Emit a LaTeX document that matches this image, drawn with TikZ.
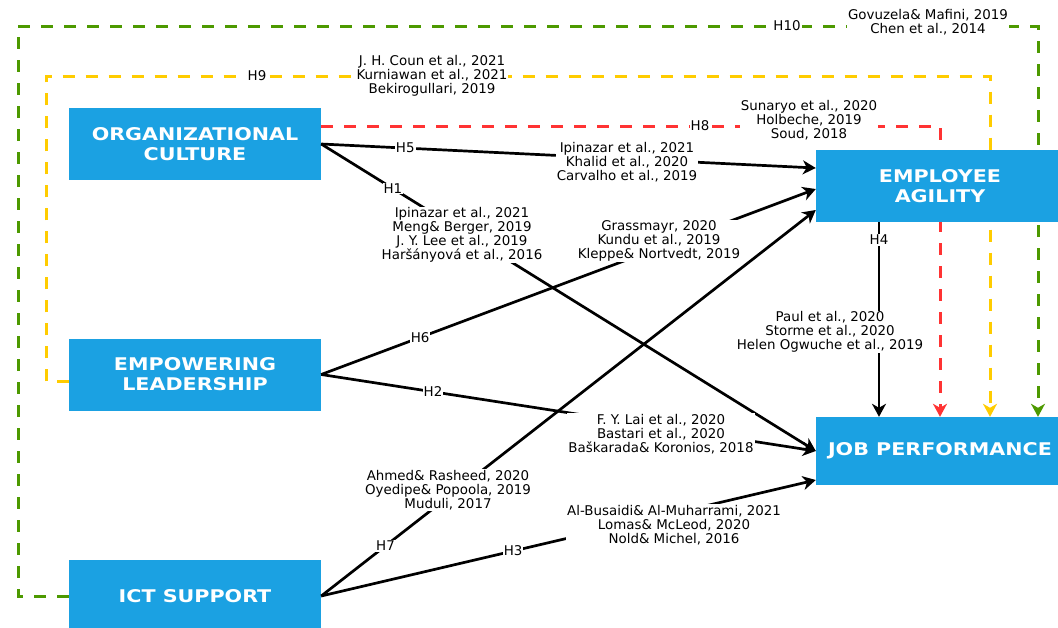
\documentclass[tikz,border=0pt]{standalone}
\usepackage{fontspec}
\setmainfont{DejaVu Sans}
\newfontfamily\boxfont[FakeStretch=1.18]{DejaVu Sans}
\usepackage{tikz}
\usetikzlibrary{arrows.meta,backgrounds}
\definecolor{boxblue}{HTML}{1BA1E2}
\definecolor{hred}{HTML}{FF3333}
\definecolor{hyellow}{HTML}{FFCC00}
\definecolor{hgreen}{HTML}{4D9900}

\begin{document}
\begin{tikzpicture}[x=1pt,y=-1pt,>={Stealth[length=13pt,width=14pt,inset=4pt]}]
      \tikzstyle{every node}=[font=\fontsize{13.4}{14}\selectfont]
      \tikzstyle{factor}=[fill=boxblue,text=white,align=center,minimum width=252pt,minimum height=72pt,inner sep=0pt,font=\boxfont\bfseries\fontsize{17.5}{20}\selectfont]
      \tikzstyle{link}=[->,line width=2.7pt]
      \tikzstyle{moderated}=[->,line width=3pt,dash pattern=on 12pt off 11pt]
      \tikzstyle{hyp}=[fill=white,inner sep=1pt]
      \tikzstyle{refs}=[fill=white,inner sep=1pt,align=center]

      \useasboundingbox (0,0) rectangle (1058,627);

      \node[factor] (OC) at (195,144) {ORGANIZATIONAL\\CULTURE};
      \node[factor] (EL) at (195,374.5) {EMPOWERING\\LEADERSHIP};
      \node[factor] (ICT) at (195,596) {ICT SUPPORT};
      \node[factor,minimum width=248pt] (EA) at (940,186) {EMPLOYEE\\AGILITY};
      \node[factor,minimum width=248pt,minimum height=68pt] (JP) at (940,451) {JOB PERFORMANCE};

      \begin{scope}[on background layer]
      \draw[moderated,hred] ([yshift=18pt]OC.east) -| (JP.north);
      \draw[moderated,hyellow] ([yshift=-7pt]EL.west) -| (46,76) -| ([xshift=50pt]JP.north);
      \draw[moderated,hgreen] (ICT.west) -| (18,26) -| ([xshift=98pt]JP.north);
      \end{scope}

      \draw[link] (OC.east) -- node[hyp,pos=0.17] {H5} ([yshift=18pt]EA.west);
      \draw[link] (OC.east) -- node[hyp,pos=0.145] {H1} (JP.west);
      \draw[link] (EL.east) -- node[hyp,pos=0.2] {H6} ([yshift=-3pt]EA.west);
      \draw[link] (EL.east) -- node[hyp,pos=0.226] {H2} (JP.west);
      \draw[link] (ICT.east) -- node[hyp,pos=0.13] {H7} ([yshift=-24pt]EA.west);
      \draw[link] (ICT.east) -- node[hyp,pos=0.388] {H3} ([yshift=-29pt]JP.west);
      \draw[link] ([xshift=-61pt]EA.south) -- node[hyp,pos=0.09] {H4} ([xshift=-61pt]JP.north);

      \node[hyp] (h8) at (700,126) {H8};
      \node[hyp] (h9) at (257,76) {H9};
      \node[hyp] (h10) at (787,26) {H10};

      \node[refs] (r1) at (462,235) {Ipinazar et al., 2021\\Meng\& Berger, 2019\\J. Y. Lee et al., 2019\\Haršányová et al., 2016};
      \node[refs] (r2) at (661,434) {F. Y. Lai et al., 2020\\Bastari et al., 2020\\Baškarada\& Koronios, 2018};
      \node[refs] (r3) at (674,525) {Al-Busaidi\& Al-Muharrami, 2021\\Lomas\& McLeod, 2020\\Nold\& Michel, 2016};
      \node[refs] (r4) at (830,332) {Paul et al., 2020\\Storme et al., 2020\\Helen Ogwuche et al., 2019};
      \node[refs] (r5) at (627,162) {Ipinazar et al., 2021\\Khalid et al., 2020\\Carvalho et al., 2019};
      \node[refs] (r6) at (659,241) {Grassmayr, 2020\\Kundu et al., 2019\\Kleppe\& Nortvedt, 2019};
      \node[refs] (r7) at (448,490) {Ahmed\& Rasheed, 2020\\Oyedipe\& Popoola, 2019\\Muduli, 2017};
      \node[refs] (r8) at (809,120) {Sunaryo et al., 2020\\Holbeche, 2019\\Soud, 2018};
      \node[refs] (r9) at (432,76) {J. H. Coun et al., 2021\\Kurniawan et al., 2021\\Bekirogullari, 2019};
      \node[refs] (r10) at (928,22) {Govuzela\& Mafini, 2019\\Chen et al., 2014};

    \end{tikzpicture}
\end{document}
